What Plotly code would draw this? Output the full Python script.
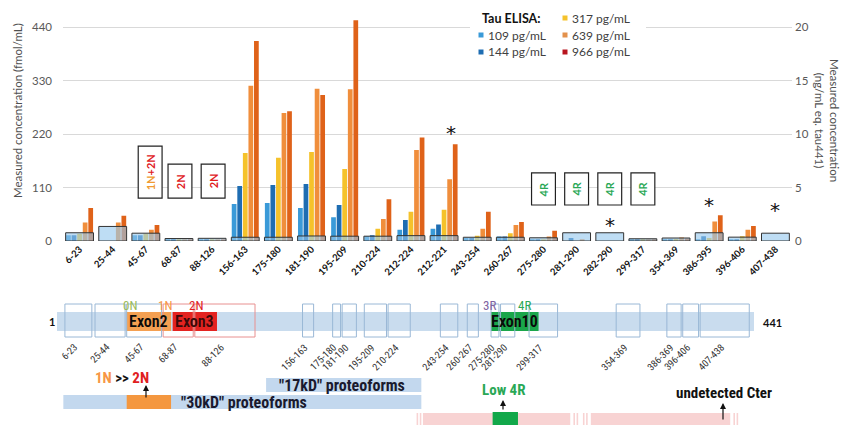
import plotly.graph_objects as go

W, H = 841, 425
def px(x): return x / W
def py(y): return 1 - y / H

# ---------------- data ----------------
categories = ["6-23", "25-44", "45-67", "68-87", "88-126", "156-163", "175-180", "181-190",
              "195-209", "210-224", "212-224", "212-221", "243-254", "260-267", "275-280",
              "281-290", "282-290", "299-317", "354-369", "386-395", "396-406", "407-438"]
elisa_labels = ["109 pg/mL", "144 pg/mL", "317 pg/mL", "639 pg/mL", "966 pg/mL"]
c109 = [12, 0, 12, 2, 2, 76, 78, 68, 49, 10, 23, 25, 6, 9, 3, 0, 0, 2, 3, 3, 3, 0]
c144 = [12, 0, 12, 2, 2, 113, 115, 117, 74, 12, 43, 34, 6, 9, 3, 6, 0, 2, 3, 10, 3, 0]
c317 = [15, 0, 15, 2, 2, 181, 171, 183, 148, 25, 60, 64, 11, 16, 3, 0, 0, 2, 4, 6, 10, 0]
c639 = [38, 38, 23, 3, 3, 319, 263, 313, 312, 45, 187, 127, 25, 33, 9, 3, 0, 2, 7, 40, 23, 0]
c966 = [68, 52, 33, 3, 3, 411, 267, 300, 454, 86, 213, 199, 60, 39, 21, 0, 0, 3, 5, 53, 31, 0]
tau441_eq = [0.77, 1.36, 0.73, 0.23, 0.25, 0.35, 0.35, 0.47, 0.45, 0.45, 0.5, 0.5, 0.35, 0.35,
             0.3, 0.77, 0.77, 0.21, 0.28, 0.77, 0.36, 0.73]
left_ticks = [0, 110, 220, 330, 440]
right_ticks = [0, 5, 10, 15, 20]

# annotation boxes (category, text) and asterisks (category, height in fmol/mL)
isoform_boxes = [("45-67", "1N+2N"), ("68-87", "2N"), ("88-126", "2N"),
                 ("275-280", "4R"), ("281-290", "4R"), ("282-290", "4R"), ("299-317", "4R")]
asterisk_cat = ["212-221", "282-290", "386-395", "407-438"]
asterisk_y = [232, 43, 84, 74]

# protein diagram
seq_len = 441
pep_start = [6, 25, 45, 68, 88, 156, 175, 181, 195, 210, 243, 260, 275, 281, 299, 354, 386, 396, 407]
pep_end = [23, 44, 67, 87, 126, 163, 180, 190, 209, 224, 254, 267, 280, 290, 317, 369, 395, 406, 438]
pep_label = ["6-23", "25-44", "45-67", "68-87", "88-126", "156-163", "175-180", "181-190", "195-209",
             "210-224", "243-254", "260-267", "275-280", "281-290", "299-317", "354-369", "386-369",
             "396-406", "407-438"]
exon_name = ["Exon2", "Exon3", "Exon10"]
exon_start = [45, 74, 275]
exon_end = [73, 102, 305]
proteo_17 = (133, 231)
proteo_30 = (5, 231)
pink_segments = [(228, 229), (230, 231), (232, 325), (327, 328), (329, 330), (333, 334),
                 (335, 336), (338, 426), (428, 429), (430, 431)]
low4r = (276, 292)

bar_colors = ["#3a9ad8", "#1e6db2", "#f5c22b", "#f08e3c", "#df6219"]
legend_colors = ["#3a9ad8", "#1e6db2", "#f5c22b", "#e3914c", "#b8151f"]
series = [c109, c144, c317, c639, c966]

FONT = "Lato, Liberation Sans, sans-serif"
NARROW = "Liberation Sans Narrow, Roboto Condensed, Liberation Sans, sans-serif"

fig = go.Figure()
for lab, vals, col in zip(elisa_labels, series, bar_colors):
    fig.add_trace(go.Bar(x=categories, y=vals, name=lab, marker=dict(color=col, line=dict(width=0)),
                         xaxis="x", yaxis="y", showlegend=False))
fig.add_trace(go.Bar(x=categories, y=tau441_eq, name="tau441 eq.", width=0.84,
                     marker=dict(color="rgba(150,200,238,0.62)", line=dict(color="#333333", width=1)),
                     xaxis="x", yaxis="y2", showlegend=False))
fig.add_trace(go.Scatter(x=[1, seq_len], y=[0, 0], mode="markers", marker=dict(opacity=0),
                         hoverinfo="skip", showlegend=False, xaxis="x3", yaxis="y3"))

shapes = []
ann = []

def A(**kw):
    kw.setdefault("xanchor", "center")
    kw.setdefault("yanchor", "middle")
    kw.setdefault("showarrow", False)
    ann.append(kw)

# isoform boxes
for cat, txt in isoform_boxes:
    i = categories.index(cat)
    if txt == "4R":
        y0, y1, xc = 74, 140, i
        t = "<b><span style='color:#2aa856'>4R</span></b>"
    elif txt == "2N":
        y0, y1, xc = 88, 158, i + 0.03
        t = "<b><span style='color:#e0201e'>2N</span></b>"
    else:
        y0, y1, xc = 88, 195, i + 0.13
        t = "<b><span style='color:#f09a30'>1N</span><span style='color:#e0201e'>+2N</span></b>"
    shapes.append(dict(type="rect", xref="x", yref="y", x0=xc - 0.36, x1=xc + 0.36, y0=y0, y1=y1,
                       line=dict(color="#222222", width=1.2), fillcolor="white", layer="above"))
    A(x=xc, y=(y0 + y1) / 2, xref="x", yref="y", text=t, textangle=-90, font=dict(family=FONT, size=11))
for cat, yv in zip(asterisk_cat, asterisk_y):
    i = categories.index(cat)
    A(x=i + (0.2 if cat == "212-221" else 0), y=yv, xref="x", yref="y", text="*", yshift=-5,
      font=dict(family="DejaVu Sans", size=20, color="#111111"))

# legend (manual)
shapes.append(dict(type="rect", xref="paper", yref="paper", x0=px(470), x1=px(646), y0=py(63), y1=py(5),
                   fillcolor="white", line=dict(width=0), layer="above"))
A(x=px(480), y=py(18), xref="paper", yref="paper", xanchor="left",
  text="<b>Tau ELISA:</b>", font=dict(family=FONT, size=12.5, color="#111111"))
leg_pos = [(481, 35), (481, 52), (565, 18), (565, 35), (565, 52)]
for (lx, ly), lab, col in zip(leg_pos, elisa_labels, legend_colors):
    shapes.append(dict(type="rect", xref="paper", yref="paper", x0=px(lx - 2.5), x1=px(lx + 2.5),
                       y0=py(ly + 2.5), y1=py(ly - 2.5), fillcolor=col, line=dict(width=0), layer="above"))
    A(x=px(lx + 5), y=py(ly), xref="paper", yref="paper", xanchor="left",
      text=lab, font=dict(family=FONT, size=12, color="#404040"))

# axis titles
A(x=px(17), y=py(111), xref="paper", yref="paper", textangle=-90,
  text="Measured concentration (fmol/mL)", font=dict(family=FONT, size=11.5, color="#505050"))
A(x=px(827), y=py(120), xref="paper", yref="paper", textangle=90,
  text="Measured concentration<br>(ng/mL eq. tau441)", font=dict(family=FONT, size=11.5, color="#505050"))

# ---------------- protein diagram ----------------
bar_top, bar_bot = 312, 331
shapes.append(dict(type="rect", xref="x3", yref="paper", x0=1, x1=seq_len, y0=py(bar_bot), y1=py(bar_top),
                   fillcolor="#c9dcee", line=dict(width=0), layer="below"))
exon_colors = ["#f4a052", "#e42320", "#1aa64a"]
for nm, s, e, col in zip(exon_name, exon_start, exon_end, exon_colors):
    shapes.append(dict(type="rect", xref="x3", yref="paper", x0=s, x1=e, y0=py(bar_bot), y1=py(bar_top),
                       fillcolor=col, line=dict(width=0), layer="above"))
    A(x=(s + e) / 2, y=py((bar_top + bar_bot) / 2), xref="x3", yref="paper",
      text=nm, font=dict(family=NARROW, size=16, weight=600,
                         color="#3a0a0a" if nm == "Exon3" else "#0a0a0a"))
for s, e, lab in zip(pep_start, pep_end, pep_label):
    col = "#e89090" if s in (68, 88) else "#9ab8d6"
    shapes.append(dict(type="rect", xref="x3", yref="paper", x0=s, x1=e, y0=py(337), y1=py(304),
                       fillcolor="rgba(0,0,0,0)", line=dict(color=col, width=1), layer="above"))
    A(x=(s + e) / 2, y=py(339), xref="x3", yref="paper", xanchor="right", yanchor="top",
      textangle=-45, text=lab, xshift=4, font=dict(family=NARROW, size=10, color="#333333"))
for txt, r, col in [("0N", 47, "#9bbb59"), ("1N", 69, "#f79646"), ("2N", 89, "#e0201e"),
                    ("3R", 274, "#8064a2"), ("4R", 296, "#2aa856")]:
    A(x=r, y=py(305), xref="x3", yref="paper", text=txt, font=dict(family=NARROW, size=13, color=col))
A(x=px(52), y=py(321), xref="paper", yref="paper", text="<b>1</b>",
  font=dict(family=FONT, size=11, color="#111111"))
A(x=px(772), y=py(322), xref="paper", yref="paper", text="<b>441</b>",
  font=dict(family=FONT, size=11, color="#111111"))

# proteoforms
shapes.append(dict(type="rect", xref="x3", yref="paper", x0=proteo_17[0], x1=proteo_17[1],
                   y0=py(392), y1=py(378), fillcolor="#c3d8ee", line=dict(width=0)))
shapes.append(dict(type="rect", xref="x3", yref="paper", x0=proteo_30[0], x1=proteo_30[1],
                   y0=py(409), y1=py(395), fillcolor="#c3d8ee", line=dict(width=0)))
shapes.append(dict(type="rect", xref="x3", yref="paper", x0=exon_start[0], x1=exon_end[0],
                   y0=py(409), y1=py(395), fillcolor="#f4973f", line=dict(width=0)))
for s, e in pink_segments:
    shapes.append(dict(type="rect", xref="x3", yref="paper", x0=s, x1=e, y0=py(426), y1=py(413),
                       fillcolor="#f8d3d3", line=dict(width=0)))
shapes.append(dict(type="rect", xref="x3", yref="paper", x0=low4r[0], x1=low4r[1], y0=py(426), y1=py(412),
                   fillcolor="#12a84a", line=dict(width=0)))
A(x=px(342), y=py(385), xref="paper", yref="paper",
  text="<b>\"17kD\" proteoforms</b>", font=dict(family=NARROW, size=16, color="#1a1a2e"))
A(x=px(244), y=py(402), xref="paper", yref="paper",
  text="<b>\"30kD\" proteoforms</b>", font=dict(family=NARROW, size=16, color="#1a1a2e"))
A(x=px(122), y=py(378), xref="paper", yref="paper",
  text="<b><span style='color:#f79646'>1N</span> >> <span style='color:#e0201e'>2N</span></b>",
  font=dict(family=NARROW, size=15, color="#111111"))
A(x=px(503), y=py(390), xref="paper", yref="paper",
  text="<b>Low 4R</b>", font=dict(family=NARROW, size=15, color="#2aa856"))
A(x=px(724), y=py(393), xref="paper", yref="paper",
  text="<b>undetected Cter</b>", font=dict(family=NARROW, size=15, color="#111111"))
for ax_, y_head, y_tail in [(146, 385, 399), (503, 400, 411), (723, 403, 421)]:
    ann.append(dict(x=px(ax_), y=py(y_head), xref="paper", yref="paper", ax=0, ay=y_tail - y_head,
                    showarrow=True, arrowhead=2, arrowsize=1, arrowwidth=1.2, arrowcolor="#111111", text=""))

fig.update_layout(
    width=W, height=H, margin=dict(l=0, r=0, t=0, b=0),
    paper_bgcolor="white", plot_bgcolor="white",
    barmode="group", bargap=0.16, bargroupgap=0.15,
    font=dict(family=FONT, color="#404040"),
    xaxis=dict(domain=[px(63), px(792)], type="category", tickangle=-45, automargin=False,
               tickfont=dict(family=FONT, size=9.5, color="#111111", weight="bold"),
               showline=False, ticks="", anchor="y"),
    yaxis=dict(domain=[py(241), py(16.3)], range=[0, 462], tickvals=left_ticks, automargin=False,
               showgrid=True, gridcolor="#d9d9d9", gridwidth=1, zeroline=False, ticklabelstandoff=10,
               tickfont=dict(family=FONT, size=11.5, color="#595959"), anchor="x"),
    yaxis2=dict(overlaying="y", side="right", range=[0, 21], tickvals=right_ticks, showgrid=False,
                zeroline=False, automargin=False, anchor="x", ticklabelstandoff=2,
                tickfont=dict(family=FONT, size=11.5, color="#595959")),
    xaxis3=dict(domain=[px(57), px(754)], range=[1, seq_len], visible=False, anchor="y3"),
    yaxis3=dict(domain=[0, 0.05], range=[0, 1], visible=False, anchor="x3"),
    shapes=shapes, annotations=ann,
)
fig.write_html("out.html", config={"displayModeBar": False},
               post_script="document.body.style.margin='0';document.body.style.overflow='hidden';")
